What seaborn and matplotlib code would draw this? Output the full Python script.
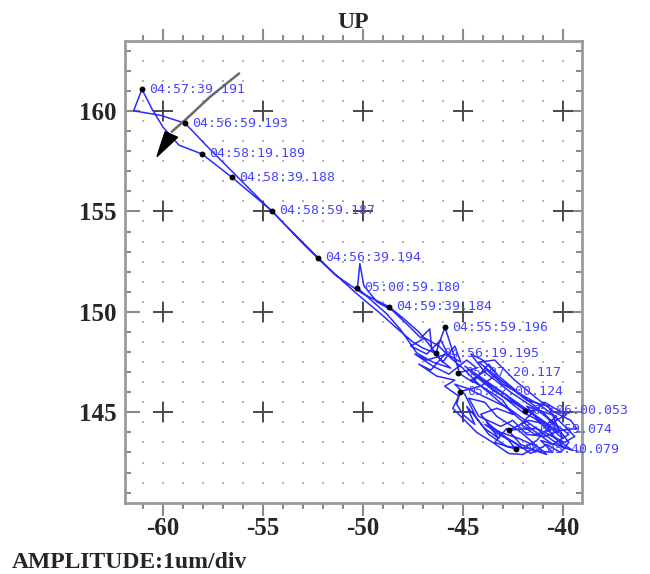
import matplotlib
matplotlib.use("Agg")
import matplotlib.pyplot as plt
from matplotlib.ticker import MultipleLocator
import numpy as np
import pandas as pd
import seaborn as sns

# Orbit of the shaft centre (um), in sample order
traj_x = [
    -45.20, -45.89, -46.20, -46.34, -47.00, -47.50, -48.20, -49.10, -50.30, -51.30,
    -52.25, -53.50, -55.00, -56.50, -57.80, -58.89, -60.10, -61.47, -61.05, -60.55,
    -60.00, -59.20, -58.05, -56.55, -54.55, -52.90, -51.40, -50.00, -48.69, -48.00,
    -47.20, -46.70, -46.10, -45.60, -46.50, -47.30, -48.10, -48.80, -49.60, -50.27,
    -50.15, -49.95, -49.30, -48.50, -47.70, -47.10, -46.65, -46.55, -46.00, -45.40,
    -45.10, -45.80, -46.80, -47.40, -46.50, -45.70, -44.80, -44.30, -45.22, -44.50,
    -43.70, -43.30, -44.10, -45.14, -45.30, -45.00, -44.40, -44.80, -43.90, -43.20,
    -43.80, -42.70, -42.34, -43.40, -42.80, -42.10, -41.40, -40.50, -41.10, -40.10,
    -39.50, -40.50, -41.30, -42.67, -41.70, -40.80, -40.30, -41.20, -41.89, -42.90,
    -44.60, -43.50, -41.50, -40.70, -40.00, -40.70, -41.80, -43.10, -44.20, -43.40,
    -42.40, -41.30, -40.40, -39.60, -39.30, -40.10, -40.90, -41.80, -42.50, -43.10,
    -44.20, -44.70, -43.90, -43.30, -42.20, -41.50, -40.80, -41.70, -42.80, -43.70,
    -44.30, -44.90, -45.40, -44.80, -42.70, -41.60, -40.50, -39.90, -40.60, -41.40,
    -42.00, -44.90, -43.60, -42.30, -41.00, -40.20, -40.90, -42.00, -43.20, -44.00,
    -44.60, -43.90, -42.60, -41.40, -40.60, -39.70, -40.50, -41.60, -42.90, -44.20,
    -45.00, -45.60, -46.20, -46.90, -47.60, -46.80, -46.10, -45.80, -46.60, -47.20,
    -46.30, -45.40, -45.90, -45.20, -45.50, -44.90, -44.30, -43.50, -42.70, -42.00,
    -41.30, -42.20, -43.10, -43.90, -43.20, -42.40, -41.60, -40.80, -40.10, -39.70,
    -40.30, -41.00, -41.80, -41.20, -40.60, -41.40, -42.10, -41.50, -40.90, -40.40,
    -39.80, -40.50, -41.30, -42.00, -42.90, -43.60, -44.10, -43.30, -42.50, -43.00,
    -43.90, -44.60, -43.80, -43.00, -42.10, -41.20, -40.50, -39.90, -39.40, -39.90,
    -40.70,
]
traj_y = [
    147.10, 149.23, 148.40, 147.94, 148.20, 148.50, 149.10, 149.90, 150.90, 151.80,
    152.70, 153.95, 155.45, 156.95, 158.25, 159.39, 159.78, 160.01, 161.08, 160.10,
    159.20, 158.30, 157.86, 156.70, 155.03, 153.30, 151.85, 150.90, 150.26, 149.70,
    149.00, 148.40, 147.60, 147.20, 147.50, 147.95, 149.10, 149.90, 150.60, 151.20,
    152.40, 151.30, 150.50, 150.05, 149.30, 148.70, 149.15, 148.10, 147.50, 148.30,
    147.50, 147.90, 147.60, 147.90, 147.30, 146.90, 147.60, 147.20, 146.97, 146.50,
    147.40, 146.90, 146.30, 146.03, 145.40, 144.90, 144.40, 145.30, 144.20, 143.70,
    144.50, 143.60, 143.16, 143.50, 144.20, 143.40, 143.10, 143.00, 143.60, 143.30,
    143.10, 143.80, 144.20, 144.12, 144.60, 144.40, 144.80, 145.10, 145.08, 145.90,
    147.00, 146.10, 144.90, 144.30, 143.70, 145.30, 145.60, 146.60, 147.50, 147.60,
    146.60, 145.70, 145.00, 144.60, 144.20, 144.10, 143.80, 143.90, 144.60, 144.30,
    144.80, 145.70, 145.50, 144.80, 144.10, 143.50, 142.90, 143.20, 143.30, 143.90,
    144.70, 145.90, 146.40, 146.20, 145.20, 144.40, 143.60, 143.20, 144.00, 144.70,
    145.00, 147.30, 146.40, 145.50, 144.60, 144.00, 144.90, 145.80, 146.80, 147.60,
    147.90, 147.00, 146.00, 145.20, 144.60, 143.90, 143.40, 144.20, 145.30, 146.40,
    147.20, 147.70, 148.30, 148.70, 148.30, 147.90, 148.60, 148.00, 147.10, 147.40,
    146.80, 146.60, 146.30, 145.80, 145.20, 144.60, 144.00, 143.50, 142.95, 142.90,
    143.30, 143.70, 144.00, 144.40, 143.90, 143.50, 142.95, 143.40, 143.00, 143.50,
    144.30, 145.00, 145.30, 144.60, 144.10, 143.90, 144.40, 145.00, 145.50, 145.20,
    144.90, 144.50, 143.60, 143.20, 143.80, 144.30, 144.90, 145.20, 144.90, 145.60,
    146.20, 146.60, 147.10, 146.40, 145.90, 145.40, 144.90, 144.30, 143.80, 143.50,
    143.90,
]

# Time-stamped samples
stamp_text = [
    "04:57:39.191", "04:56:59.193", "04:58:19.189", "04:58:39.188",
    "04:58:59.187", "04:56:39.194", "05:00:59.180", "04:59:39.184",
    "04:55:59.196", "04:56:19.195", "05:07:20.117", "05:02:00.124",
    "05:06:00.053", "05:03:59.074", "05:05:40.079",
]
stamp_x = [-61.05, -58.89, -58.05, -56.55, -54.55, -52.25, -50.27, -48.69,
           -45.89, -46.34, -45.22, -45.14, -41.89, -42.67, -42.34]
stamp_y = [161.08, 159.39, 157.86, 156.70, 155.03, 152.70, 151.20, 150.26,
           149.23, 147.94, 146.97, 146.03, 145.08, 144.12, 143.16]

# Rotation direction indicator: curved shaft and arrow head
arrow_x = [-56.19, -57.64, -58.89, -59.56]
arrow_y = [161.87, 160.71, 159.55, 158.97]
head_x = [-60.30, -59.89, -59.27]
head_y = [157.73, 158.97, 158.69]

sns.set_style("white")
plt.rcParams["font.family"] = ["Liberation Serif", "DejaVu Serif"]
plt.rcParams["font.weight"] = "bold"
plt.rcParams["axes.unicode_minus"] = False

fig = plt.figure(figsize=(6.5, 5.74), dpi=100)
ax = fig.add_axes([0.1923, 0.1242, 0.7026, 0.8049])
ax.set_xlim(-61.9, -39.05)
ax.set_ylim(140.5, 163.5)

# dotted background grid and "+" markers at the labelled divisions
gx, gy = np.meshgrid(np.arange(-61, -39), np.arange(141.5, 163.0, 1.0))
ax.scatter(gx.ravel(), gy.ravel(), s=3, marker="s", color="#b4b4b4",
           linewidths=0, zorder=1)
cx, cy = np.meshgrid(np.arange(-60, -39, 5), np.arange(145, 161, 5))
ax.scatter(cx.ravel(), cy.ravel(), marker="+", s=200, color="#4a4a4a",
           linewidths=1.4, zorder=2)

orbit = pd.DataFrame({"x": traj_x, "y": traj_y})
sns.lineplot(data=orbit, x="x", y="y", sort=False, estimator=None,
             color="#2b2bff", linewidth=1.1, ax=ax, zorder=3)

sns.lineplot(x=arrow_x, y=arrow_y, sort=False, estimator=None,
             color="#6a6a6a", linewidth=1.8, ax=ax, zorder=4)
ax.fill(head_x, head_y, color="black", zorder=4)

sns.scatterplot(x=stamp_x, y=stamp_y, color="black", s=18, linewidth=0,
                ax=ax, zorder=5)
for txt, x, y in zip(stamp_text, stamp_x, stamp_y):
    ax.annotate(txt, (x, y), xytext=(5, 0), textcoords="offset points",
                ha="left", va="center", fontsize=9.5, fontweight="normal",
                family="DejaVu Sans Mono", color="#4646ff", zorder=6)

ax.set_xlabel("")
ax.set_ylabel("")
ax.xaxis.set_major_locator(MultipleLocator(5))
ax.xaxis.set_minor_locator(MultipleLocator(1))
ax.yaxis.set_major_locator(MultipleLocator(5))
ax.yaxis.set_minor_locator(MultipleLocator(1))

tick_col = "#8a8a8a"
ax.tick_params(axis="x", which="both", direction="out", top=True, bottom=True,
               labeltop=False, color=tick_col, width=1.5, labelsize=18)
ax.tick_params(axis="x", which="major", length=9, pad=1)
ax.tick_params(axis="x", which="minor", length=4.5)
ax.tick_params(axis="y", which="both", direction="in", left=True, right=True,
               labelright=False, color=tick_col, width=1.5, labelsize=18)
ax.tick_params(axis="y", which="major", length=11, pad=6)
ax.tick_params(axis="y", which="minor", length=4.5)

for sp in ax.spines.values():
    sp.set_color("#9a9a9a")
    sp.set_linewidth(2)

fig.text(353.3 / 650, 1 - 28.3 / 574, "UP", ha="center", va="baseline",
         fontsize=17, fontweight="bold")
fig.text(12 / 650, 6 / 574, "AMPLITUDE:1um/div", ha="left", va="baseline",
         fontsize=17, fontweight="bold")

fig.savefig("out.png", dpi=100)
